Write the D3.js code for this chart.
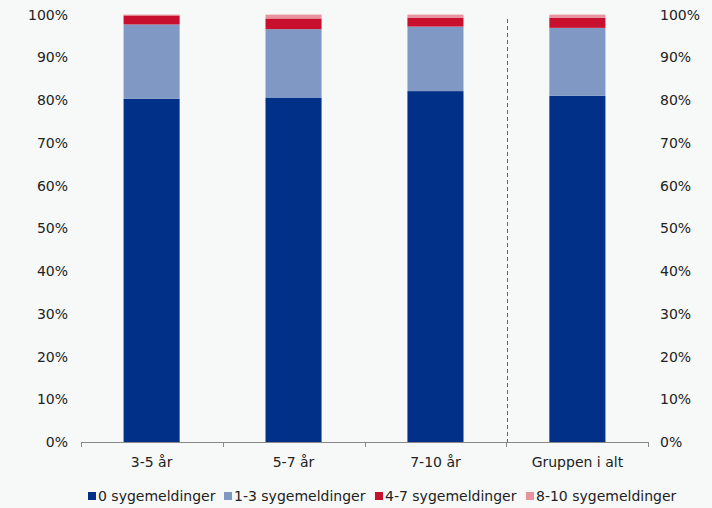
<!DOCTYPE html>
<html><head><meta charset="utf-8">
<script src="https://cdn.jsdelivr.net/npm/d3@7"></script>
<style>
html,body{margin:0;padding:0;background:#f7f9f9;}
svg{display:block;font-family:Verdana,"DejaVu Sans",sans-serif;}
</style></head>
<body>
<svg id="chart" width="712" height="508"></svg>
<script>
const categories = ["3-5 år", "5-7 år", "7-10 år", "Gruppen i alt"];
const seriesNames = ["0 sygemeldinger", "1-3 sygemeldinger", "4-7 sygemeldinger", "8-10 sygemeldinger"];
const s0 = [80.3, 80.6, 82.1, 81.0];
const s1 = [17.4, 16.0, 15.1, 15.9];
const s2 = [2.1, 2.5, 2.1, 2.4];
const s3 = [0.2, 0.9, 0.7, 0.7];
const yTicks = [0,10,20,30,40,50,60,70,80,90,100];
const colors = ["#003087", "#8099c4", "#c8102e", "#e8939f"];

(function(){
const svg = d3.select("#chart");
const pLeft = 81, pRight = 648, pTop = 14.6, pBottom = 442;
const x = d3.scaleBand().domain(categories).range([pLeft, pRight]).paddingInner(0.605).paddingOuter(0.3);
const y = d3.scaleLinear().domain([0, 100]).range([pBottom, pTop]);

const rows = categories.map((c, i) => ({cat: c, a: s0[i], b: s1[i], c2: s2[i], d: s3[i]}));
const stack = d3.stack().keys(["a","b","c2","d"])(rows);

svg.append("g").selectAll("g").data(stack).join("g")
  .attr("fill", (d, i) => colors[i])
  .selectAll("rect").data(d => d).join("rect")
  .attr("x", d => x(d.data.cat))
  .attr("width", x.bandwidth())
  .attr("y", d => y(d[1]))
  .attr("height", d => y(d[0]) - y(d[1]));

const fmt = d => d + "%";
svg.append("g").selectAll("text").data(yTicks).join("text")
  .attr("x", 68).attr("y", d => y(d)).attr("dy", "0.36em")
  .attr("text-anchor", "end").attr("font-size", 14).attr("fill", "#222")
  .text(fmt);
svg.append("g").selectAll("text").data(yTicks).join("text")
  .attr("x", 660).attr("y", d => y(d)).attr("dy", "0.36em")
  .attr("text-anchor", "start").attr("font-size", 14).attr("fill", "#222")
  .text(fmt);

const tickPos = d3.range(categories.length + 1).map(i => pLeft + i * (pRight - pLeft) / categories.length);
const xa = svg.append("g");
xa.append("line").attr("x1", pLeft).attr("x2", pRight).attr("y1", pBottom + 0.5).attr("y2", pBottom + 0.5)
  .attr("stroke", "#888").attr("stroke-width", 1);
xa.selectAll("line.t").data(tickPos).join("line").attr("class","t")
  .attr("x1", d => Math.round(d) + 0.5).attr("x2", d => Math.round(d) + 0.5)
  .attr("y1", pBottom).attr("y2", pBottom + 5).attr("stroke", "#888");
xa.selectAll("text").data(categories).join("text")
  .attr("x", d => x(d) + x.bandwidth() / 2).attr("y", 462).attr("dy", "0.36em")
  .attr("text-anchor", "middle").attr("font-size", 14).attr("fill", "#222")
  .text(d => d);

svg.append("line")
  .attr("x1", Math.round(tickPos[3]) + 1.5).attr("x2", Math.round(tickPos[3]) + 1.5)
  .attr("y1", 19).attr("y2", pBottom)
  .attr("stroke", "#666").attr("stroke-dasharray", "4,3");

const legendX = [88, 224, 375, 526];
const lg = svg.append("g").selectAll("g").data(seriesNames).join("g")
  .attr("transform", (d, i) => `translate(${legendX[i]},496)`);
lg.append("rect").attr("x", 0).attr("y", -4).attr("width", 8).attr("height", 8)
  .attr("fill", (d, i) => colors[i]);
lg.append("text").attr("x", 10).attr("y", 0).attr("dy", "0.36em")
  .attr("font-size", 14).attr("fill", "#222").text(d => d);
})();
</script>
</body></html>
